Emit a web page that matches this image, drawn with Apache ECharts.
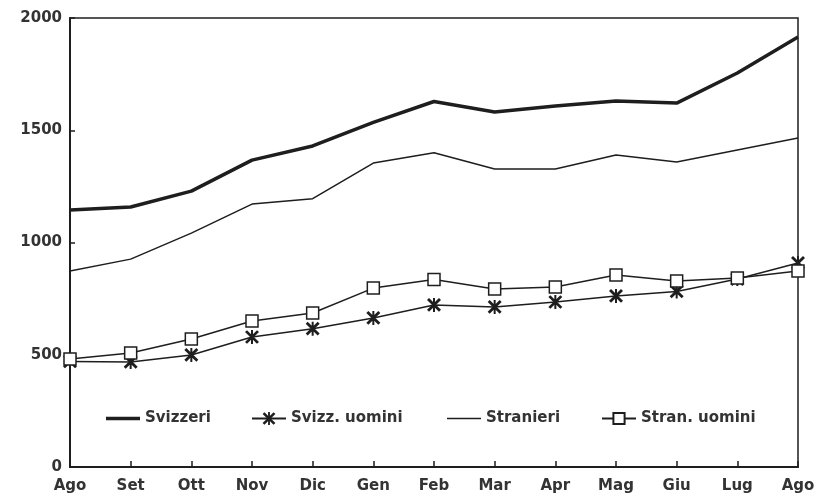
<!DOCTYPE html>
<html>
<head>
<meta charset="utf-8">
<style>html,body{margin:0;padding:0;background:#fff}#c{width:823px;height:497px}</style>
<script src="https://cdn.jsdelivr.net/npm/echarts@6/dist/echarts.min.js"></script>
</head>
<body>
<div id="c"></div>
<script>
var months = ['Ago','Set','Ott','Nov','Dic','Gen','Feb','Mar','Apr','Mag','Giu','Lug','Ago'];
var yTicks = [0, 500, 1000, 1500, 2000];
var svizzeri = [1145, 1158, 1229, 1367, 1430, 1535, 1628, 1581, 1608, 1630, 1621, 1755, 1915];
var svizzUomini = [470, 468, 499, 579, 616, 664, 722, 713, 735, 762, 782, 837, 909];
var stranieri = [873, 926, 1042, 1171, 1195, 1354, 1400, 1327, 1327, 1390, 1359, 1412, 1465];
var stranUomini = [481, 508, 570, 650, 686, 797, 835, 793, 802, 855, 829, 842, 873];

var ink = '#1e1e1e';
var font = 'DejaVu Sans';
var starPath = 'path://M4.3,0L5.7,0L5.7,10L4.3,10Z M1.5,0.1L9.9,8.5L8.5,9.9L0.1,1.5Z M8.5,0.1L9.9,1.5L1.5,9.9L0.1,8.5Z';

var chart = echarts.init(document.getElementById('c'), null, {renderer: 'canvas'});
function leg(name, left, icon, h) {
  var d = icon ? {name: name, icon: icon} : {name: name};
  return {
    data: [d], left: left, top: 406, orient: 'horizontal',
    itemWidth: 34, itemHeight: h, itemGap: 0,
    textStyle: {fontFamily: font, fontSize: 15, fontWeight: 'bold', color: '#333'},
    selectedMode: false
  };
}
chart.setOption({
  animation: false,
  backgroundColor: '#fff',
  grid: {left: 70, right: 25, top: 18, bottom: 30, show: true, borderColor: ink, borderWidth: 1.5, backgroundColor: 'transparent'},
  legend: [
    leg('Svizzeri', 101, 'rect', 3.5),
    leg('Svizz. uomini', 246, null, 16),
    leg('Stranieri', 442, 'rect', 1.5),
    leg('Stran. uomini', 596, null, 14)
  ],
  xAxis: {
    type: 'category', data: months, boundaryGap: false,
    axisLine: {lineStyle: {color: ink, width: 2}},
    axisTick: {inside: true, length: 6, lineStyle: {color: ink, width: 1.5}},
    axisLabel: {fontFamily: font, fontSize: 15, fontWeight: 'bold', color: '#333', margin: 12, interval: 0},
    splitLine: {show: false}
  },
  yAxis: {
    type: 'value', min: yTicks[0], max: yTicks[yTicks.length - 1], interval: yTicks[1] - yTicks[0],
    axisLine: {show: true, lineStyle: {color: ink, width: 2}},
    axisTick: {show: true, inside: true, length: 5, lineStyle: {color: ink, width: 1.5}},
    axisLabel: {fontFamily: font, fontSize: 15, fontWeight: 'bold', color: '#333', margin: 8,
      formatter: function (v) { return String(v); }},
    splitLine: {show: false}
  },
  series: [
    {name: 'Svizzeri', type: 'line', data: svizzeri, showSymbol: false, symbol: 'none',
     lineStyle: {color: ink, width: 3.5}, itemStyle: {color: ink}},
    {name: 'Svizz. uomini', type: 'line', data: svizzUomini, symbol: starPath, symbolSize: 14,
     lineStyle: {color: ink, width: 1.5}, itemStyle: {color: ink}},
    {name: 'Stranieri', type: 'line', data: stranieri, showSymbol: false, symbol: 'none',
     lineStyle: {color: ink, width: 1.5}, itemStyle: {color: ink}},
    {name: 'Stran. uomini', type: 'line', data: stranUomini, symbol: 'rect', symbolSize: 12,
     lineStyle: {color: ink, width: 1.5}, itemStyle: {color: '#fff', borderColor: ink, borderWidth: 1.5}}
  ]
});
</script>
</body>
</html>
